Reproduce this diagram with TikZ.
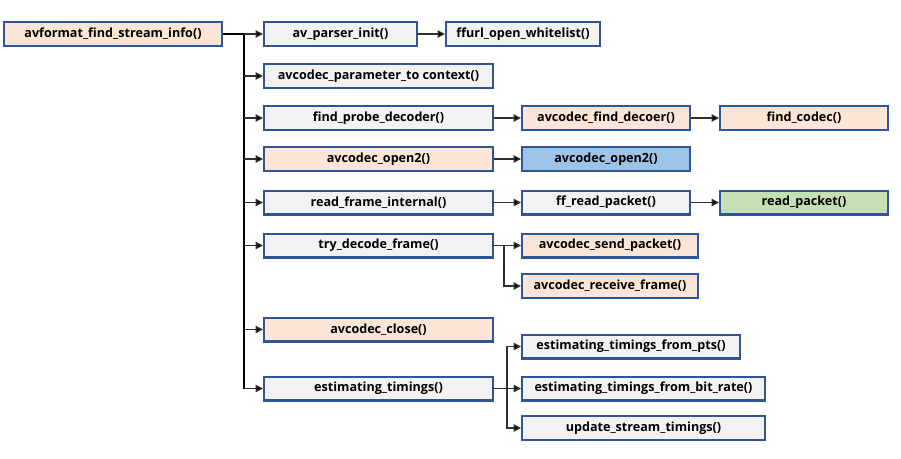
\documentclass[tikz,border=0pt]{standalone}
\usepackage{fontspec}
\setmainfont{Open Sans}
\usetikzlibrary{arrows.meta}
\definecolor{peach}{HTML}{FBE5D6}
\definecolor{lgray}{HTML}{F2F2F2}
\definecolor{lblue}{HTML}{9DC3E6}
\definecolor{lgreen}{HTML}{C5E0B4}
\definecolor{bord}{HTML}{2F5597}
\definecolor{conn}{HTML}{303030}
\tikzset{
  box/.style={draw=bord, line width=2.2pt, rectangle, inner sep=0pt, minimum height=23.8pt,
    font=\fontsize{12.6}{14}\selectfont\bfseries, text=black},
  arr/.style={draw=conn, line width=1.3pt, -{Triangle[length=7.5pt,width=7.5pt,fill=black]}},
  ln/.style={draw=black, line width=1.6pt}
}
\begin{document}
\begin{tikzpicture}[x=1pt,y=-1pt]
\useasboundingbox (0,0) rectangle (901,458);
% column 0
\node[box, fill=peach, minimum width=217.8pt] (avf) at (113,34) {avformat\_find\_stream\_info()};
% column 1
\node[box, fill=lgray, minimum width=152.8pt] (api) at (340.5,34) {av\_parser\_init()};
\node[box, fill=lgray, minimum width=228.8pt] (apc) at (378.5,76) {avcodec\_parameter\_to context()};
\node[box, fill=lgray, minimum width=228.8pt] (fpd) at (378.5,118) {find\_probe\_decoder()};
\node[box, fill=peach, minimum width=228.8pt] (ao1) at (378.5,159) {avcodec\_open2()};
\node[box, fill=lgray, minimum width=228.8pt] (rfi) at (378.5,202.5) {read\_frame\_internal()};
\node[box, fill=lgray, minimum width=228.8pt] (tdf) at (378.5,245.5) {try\_decode\_frame()};
\node[box, fill=peach, minimum width=228.8pt] (acl) at (378.5,329.5) {avcodec\_close()};
\node[box, fill=lgray, minimum width=228.8pt] (est) at (378.5,388.5) {estimating\_timings()};
% column 2
\node[box, fill=lgray, minimum width=153.8pt] (ffu) at (523,34) {ffurl\_open\_whitelist()};
\node[box, fill=peach, minimum width=167.8pt] (afd) at (606,118) {avcodec\_find\_decoer()};
\node[box, fill=lblue, minimum width=167.8pt] (ao2) at (606,159) {avcodec\_open2()};
\node[box, fill=lgray, minimum width=167.8pt] (ffr) at (606,202.5) {ff\_read\_packet()};
\node[box, fill=peach, minimum width=175.8pt] (asp) at (610,245.5) {avcodec\_send\_packet()};
\node[box, fill=peach, minimum width=175.8pt] (arf) at (610,286) {avcodec\_receive\_frame()};
\node[box, fill=lgray, minimum width=217.8pt] (epts) at (631,346.5) {estimating\_timings\_from\_pts()};
\node[box, fill=lgray, minimum width=242.8pt] (ebr) at (643.5,388.5) {estimating\_timings\_from\_bit\_rate()};
\node[box, fill=lgray, minimum width=242.8pt] (ust) at (643.5,428) {update\_stream\_timings()};
% column 3
\node[box, fill=peach, minimum width=167.8pt] (fco) at (804,118) {find\_codec()};
\node[box, fill=lgreen, minimum width=167.8pt] (rpk) at (804,202.5) {read\_packet()};
% junction coordinates
\coordinate (t) at (244,0);
\coordinate (j1) at (504,0);
\coordinate (j2) at (507,0);
% trunk
\draw[ln] (avf.east) -- (t |- avf.east);
\draw[ln] (t |- avf.east) -- (t |- est.west);
\foreach \n in {api,apc,fpd,ao1,rfi,tdf,acl,est}
  \draw[arr] (t |- \n.west) -- (\n.west);
% second level
\draw[arr] (api.east) -- (ffu.west);
\draw[arr] (fpd.east) -- (afd.west);
\draw[arr] (afd.east) -- (fco.west);
\draw[arr] (ao1.east) -- (ao2.west);
\draw[arr] (rfi.east) -- (ffr.west);
\draw[arr] (ffr.east) -- (rpk.west);
\draw[arr] (tdf.east) -- (asp.west);
\draw[arr] (j1 |- tdf.east) |- (arf.west);
\draw[arr] (est.east) -- (ebr.west);
\draw[arr] (j2 |- est.east) |- (epts.west);
\draw[arr] (j2 |- est.east) |- (ust.west);
\end{tikzpicture}
\end{document}
